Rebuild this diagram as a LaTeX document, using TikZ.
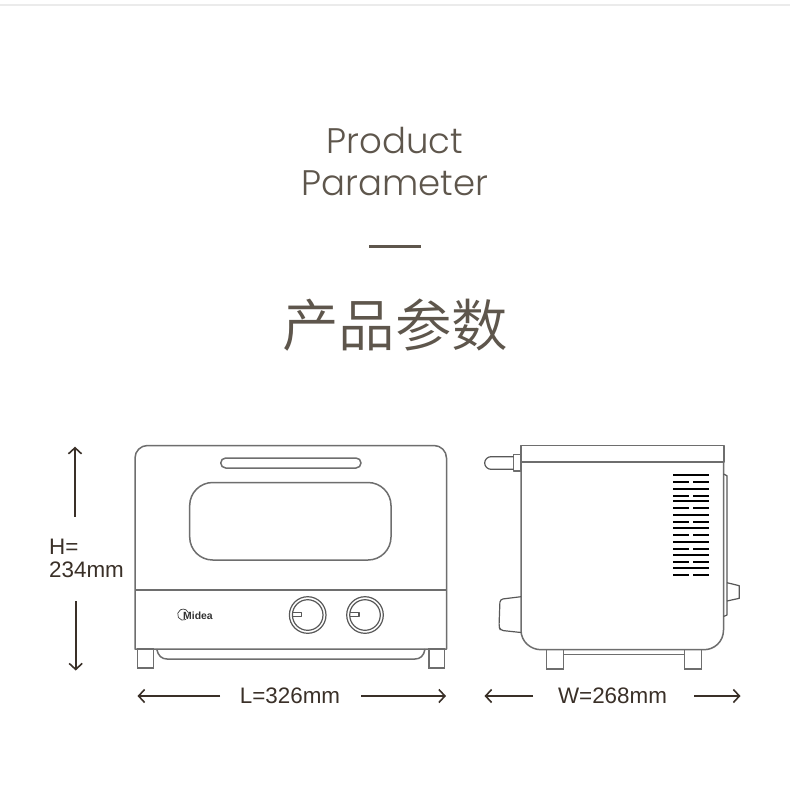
\documentclass[tikz,border=0pt]{standalone}
\usepackage{fontspec}
\usetikzlibrary{arrows.meta}
\setmainfont{Liberation Sans}
\newfontfamily\titlefont[UprightFont=* Light]{Poppins}
\newfontfamily\cjkfont[UprightFont=* DemiLight]{Noto Sans CJK SC}
\definecolor{titlecol}{HTML}{5E564C}
\definecolor{ovencol}{HTML}{6E6E6E}
\definecolor{dimcol}{HTML}{3A3028}
\tikzset{
  oven/.style={draw=ovencol,line width=1.5pt,line join=round},
  ovenfine/.style={draw=ovencol!80!black,line width=1.2pt,line join=round},
  dimarrow/.style={draw=dimcol,line width=1.7pt,-{Straight Barb[length=6pt,width=13pt,line width=1.6pt]}},
  dimtext/.style={text=dimcol,font=\fontsize{22.4}{23}\selectfont,inner sep=0pt},
  vent/.style={draw=black,line width=1.8pt},
  titletext/.style={text=titlecol,inner sep=0pt,font=\titlefont\fontsize{35.5}{42}\selectfont}
}
\begin{document}
\begin{tikzpicture}[x=1pt,y=-1pt]
\useasboundingbox (0,0) rectangle (790,793);
\fill[white] (0,0) rectangle (790,793);
\draw[draw=black!8,line width=1.8pt] (0,5) -- (790,5);
% titles
\node[titletext] (t1) at (395,141) {Product};
\node[titletext] (t2) at (395,183) {Parameter};
\draw[draw=titlecol,line width=3pt] (369,246) -- (421,246);
\node[text=titlecol,inner sep=0pt,font=\cjkfont\fontsize{56.5}{60}\selectfont] (t3) at (395,325) {产品参数};
% front view
\draw[oven] (135,649) -- (135,458) arc[start angle=180,end angle=270,radius=12.5] -- (434,445.5) arc[start angle=270,end angle=360,radius=12.5] -- (446.5,649) -- cycle;
\draw[oven] (135,590) -- (446.5,590);
\draw[oven,rounded corners=5pt] (220.7,458) rectangle (361,468);
\draw[oven,rounded corners=23pt] (189.7,482.5) rectangle (391,560);
\foreach \cx in {307.7,365}{
  \draw[ovenfine] (\cx,615) circle[radius=18.3];
  \draw[ovenfine] (\cx,615) circle[radius=15.3];
  \draw[ovenfine] (\cx-15.3,612.5) -- (\cx-6,612.5) -- (\cx-6,616.8) -- (\cx-15.3,616.8);
}
\draw[draw=ovencol,line width=1.2pt] (137.3,649) rectangle (153.3,668);
\draw[draw=ovencol,line width=1.2pt] (429,649) rectangle (444.5,668);
\draw[oven] (156.7,649) .. controls (158,656) and (162,659) .. (167,659) -- (415,659) .. controls (420,659) and (424,656) .. (425,649);
% logo
\draw[draw=black!75,line width=.7pt] (186,619.5) arc[start angle=60,end angle=340,radius=5.6];
\node[anchor=west,inner sep=0pt,text=black!80,font=\bfseries\fontsize{10.4}{11}\selectfont] (logo) at (183,615.3) {Midea};
% side view
\draw[oven] (521,445.7) rectangle (724,462);
\draw[oven] (521,462) -- (521,630) .. controls (521,642) and (531,649.7) .. (541,649.7) -- (704,649.7) .. controls (714,649.7) and (723.5,642) .. (723.5,630) -- (723.5,462);
\draw[oven] (513.7,454.7) rectangle (521,471);
\draw[ovenfine] (513.7,456.7) -- (491,456.7) arc[start angle=270,end angle=90,radius=6.3] -- (513.7,469.3);
\draw[ovenfine,rounded corners=3pt] (521,596.7) -- (500,599.3) -- (499,627) -- (500.5,630.3) -- (521,632.5);
\draw[ovenfine] (723.5,474) -- (727,475.7) -- (727,615) -- (723.5,616.5);
\draw[ovenfine] (727,582.7) -- (739.3,585.7) -- (739.3,598.3) -- (727,601);
\draw[draw=ovencol,line width=1.2pt] (546.7,649.7) rectangle (563.3,669);
\draw[draw=ovencol,line width=1.2pt] (684.7,649.7) rectangle (701.7,669);
\draw[oven] (563.3,654.3) -- (684.7,654.3);
% vents
\foreach \y in {474.7,489,501,515,528.3,542,555,568}{ \draw[vent] (673.3,\y) -- (709,\y); }
\foreach \y in {482,496,508,521.7,535,548.7,562,575}{
  \draw[vent] (673.3,\y) -- (689,\y);
  \draw[vent] (693.3,\y) -- (709,\y);
}
% dimensions
\node[dimtext,anchor=west] (h1) at (49,547) {H=};
\node[dimtext,anchor=west] (h2) at (49,570) {234mm};
\node[dimtext] (l) at (290,696) {L=326mm};
\node[dimtext] (w) at (612.5,696) {W=268mm};
\coordinate (ha) at (75,516.7); \coordinate (hb) at (75,446.7);
\coordinate (hc) at (75.7,601); \coordinate (hd) at (75.7,670.5);
\coordinate (la) at (220,696); \coordinate (lb) at (137.5,696);
\coordinate (lc) at (361,696); \coordinate (ld) at (446,696);
\coordinate (wa) at (533,696); \coordinate (wb) at (484.5,696);
\coordinate (wc) at (694,696); \coordinate (wd) at (740.5,696);
\draw[dimarrow] (ha) -- (hb);
\draw[dimarrow] (hc) -- (hd);
\draw[dimarrow] (la) -- (lb);
\draw[dimarrow] (lc) -- (ld);
\draw[dimarrow] (wa) -- (wb);
\draw[dimarrow] (wc) -- (wd);
\end{tikzpicture}
\end{document}
